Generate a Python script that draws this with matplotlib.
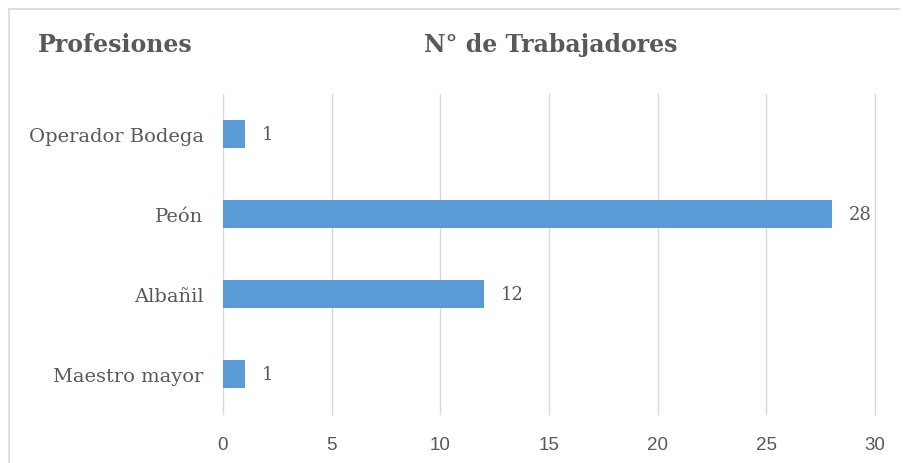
import matplotlib
matplotlib.use("Agg")
import matplotlib.pyplot as plt
from matplotlib.lines import Line2D

categories = ["Maestro mayor", "Albañil", "Peón", "Operador Bodega"]
values = [1, 12, 28, 1]
xticks = [0, 5, 10, 15, 20, 25, 30]

text_color = "#595959"
grid_color = "#d9d9d9"
bar_color = "#5b9bd5"
serif = ["DejaVu Serif"]

fig = plt.figure(figsize=(9.04, 4.64), dpi=100)
fig.patch.set_facecolor("white")
top = 1 - 10/464
left = 8.5/904
fig.add_artist(Line2D([left, 0.995], [top, top], transform=fig.transFigure, color=grid_color, lw=1.2))
fig.add_artist(Line2D([left, left], [0, top], transform=fig.transFigure, color=grid_color, lw=1.2))

ax = fig.add_axes([223/904, 49/464, 652/904, 320/464])
ypos = list(range(len(categories)))
ax.barh(ypos, values, height=0.35, color=bar_color, zorder=3)
ax.set_xlim(0, 30)
ax.set_ylim(-0.5, 3.5)
ax.set_xticks(xticks)
ax.set_xticklabels([str(t) for t in xticks], family="Liberation Sans", fontsize=13.5, color=text_color)
ax.set_yticks(ypos)
ax.set_yticklabels(categories, family=serif, fontsize=14, color=text_color)
ax.tick_params(axis="both", length=0)
ax.tick_params(axis="x", pad=16)
ax.tick_params(axis="y", pad=14)
ax.grid(axis="x", color=grid_color, lw=1, zorder=0)
for gl in ax.get_xgridlines():
    gl.set_clip_on(False)
for s in ax.spines.values():
    s.set_visible(False)

for y, v in zip(ypos, values):
    ax.annotate(str(v), xy=(v, y), xytext=(17, 0), textcoords="offset pixels",
                va="center", ha="left", family=serif, fontsize=13, color=text_color)

fig.text(38/904, 1 - 45/464, "Profesiones", family=serif, fontweight="bold", fontsize=17,
         color=text_color, ha="left", va="center")
fig.text(551/904, 1 - 45/464, "N° de Trabajadores", family=serif, fontweight="bold", fontsize=17,
         color=text_color, ha="center", va="center")

fig.savefig("out.png", dpi=100, facecolor="white")
